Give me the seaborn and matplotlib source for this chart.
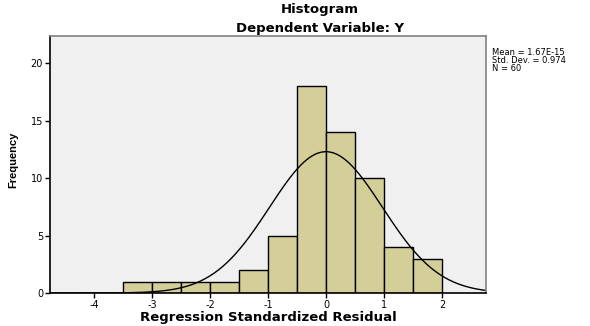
import numpy as np
import pandas as pd
import matplotlib
matplotlib.use("Agg")
import matplotlib.pyplot as plt
import seaborn as sns

# Data
bin_edges = [-3.5, -3.0, -2.5, -2.0, -1.5, -1.0, -0.5, 0.0, 0.5, 1.0, 1.5, 2.0]
counts = [1, 1, 1, 1, 2, 5, 18, 14, 10, 4, 3]
mean_val = 1.67e-15
std_val = 0.974
n_val = 60
x_ticks = [-4, -3, -2, -1, 0, 1, 2]
y_ticks = [0, 5, 10, 15, 20]
stats_lines = ["Mean = 1.67E-15", "Std. Dev. = 0.974", "N = 60"]

sns.set_theme(style="white")
plt.rcParams['font.family'] = ['DejaVu Sans']
for k in ['text.color', 'axes.labelcolor', 'xtick.color', 'ytick.color']:
    plt.rcParams[k] = 'black'

W, H = 590, 326
top_px, bot_px = 36, 293
fig = plt.figure(figsize=(5.9, 3.26), dpi=100)
ax = fig.add_axes([50/W, 1-bot_px/H, (486-50)/W, (bot_px-top_px)/H])
ax.set_facecolor('#F0F0F0')

centers = [(bin_edges[i] + bin_edges[i+1]) / 2 for i in range(len(counts))]
df = pd.DataFrame({"resid": centers, "count": counts})
sns.histplot(data=df, x="resid", weights="count", bins=bin_edges, ax=ax,
             color="#D4CF99", edgecolor="black", linewidth=1.0, alpha=1.0)

xlim = (-4.76, 2.76)
bw = bin_edges[1] - bin_edges[0]
xs = np.linspace(xlim[0], xlim[1], 400)
ys = n_val * bw * np.exp(-0.5 * ((xs - mean_val) / std_val) ** 2) / (std_val * np.sqrt(2 * np.pi))
sns.lineplot(x=xs, y=ys, ax=ax, color="black", linewidth=1.0)

ax.set_xlim(*xlim)
ax.set_ylim(0, 22.35)
ax.set_xticks(x_ticks)
ax.set_xticklabels([str(t) for t in x_ticks])
ax.set_yticks(y_ticks)
ax.set_yticklabels([str(t) for t in y_ticks])
ax.tick_params(axis='both', which='both', direction='out', length=3.5, width=1,
               labelsize=7, color='black', labelcolor='black', pad=1.5,
               bottom=True, left=True)

for side in ['left', 'bottom']:
    ax.spines[side].set_color('black')
    ax.spines[side].set_linewidth(1.2)
for side in ['top', 'right']:
    ax.spines[side].set_color('#808080')
    ax.spines[side].set_linewidth(1.2)
    ax.spines[side].set_visible(True)

ax_h = bot_px - top_px
ax.set_xlabel("Regression Standardized Residual", fontsize=9.5, fontweight='bold')
ax.xaxis.set_label_coords(0.5, (bot_px-318)/ax_h)
ax.xaxis.label.set_va('center')
ax.set_ylabel("Frequency", fontsize=8, fontweight='bold', family=['Liberation Sans', 'DejaVu Sans'])
ax.yaxis.set_label_coords((13-50)/436, (bot_px-160)/ax_h)
ax.yaxis.label.set_va('center')
ax.yaxis.label.set_ha('center')

fig.text(320/W, 1-10/H, "Histogram", ha='center', va='center', fontsize=9.5, fontweight='bold')
fig.text(320/W, 1-28.5/H, "Dependent Variable: Y", ha='center', va='center', fontsize=9.5, fontweight='bold')

fig.text(492/W, 1-48/H, "\n".join(stats_lines), ha='left', va='top',
         fontsize=6.0, linespacing=0.88)

fig.savefig("out.png", dpi=100)
